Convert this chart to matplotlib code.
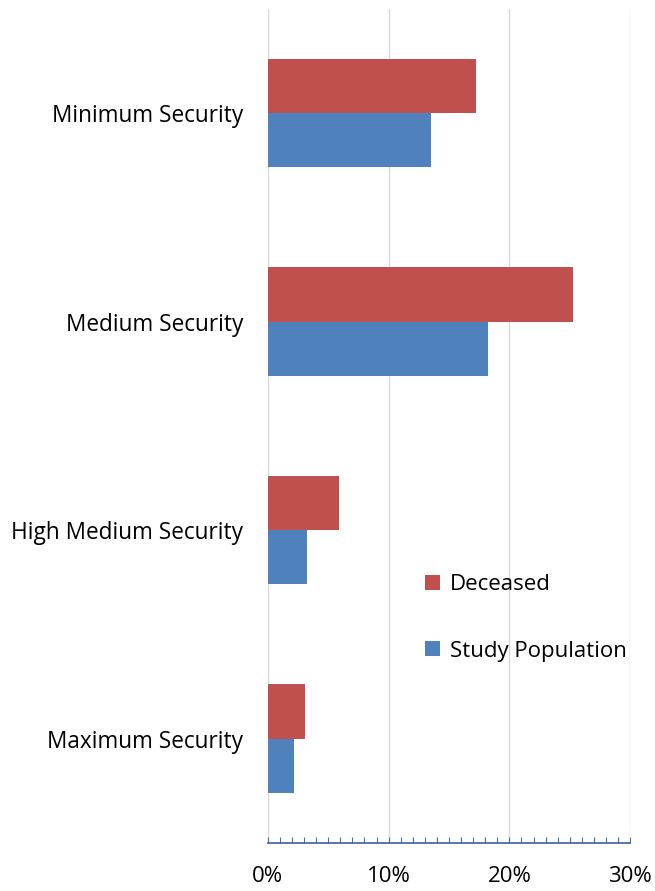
import matplotlib.pyplot as plt
from matplotlib.ticker import MultipleLocator, FuncFormatter
import numpy as np

categories = ["Minimum Security", "Medium Security", "High Medium Security", "Maximum Security"]
deceased = [17.2, 25.3, 5.9, 3.1]
study_population = [13.5, 18.2, 3.2, 2.2]

red = "#C0504D"
blue = "#4F81BD"

plt.rcParams["font.family"] = ["Open Sans", "DejaVu Sans"]

fig = plt.figure(figsize=(6.55, 8.91), dpi=100)
ax = fig.add_axes([0.409, 0.054, 0.553, 0.936])

y = np.arange(len(categories))
h = 0.26
ax.barh(y - h / 2, deceased, height=h, color=red, label="Deceased", zorder=3)
ax.barh(y + h / 2, study_population, height=h, color=blue, label="Study Population", zorder=3)

ax.set_xlim(0, 30)
ax.set_ylim(len(categories) - 0.5, -0.5)
ax.set_yticks(y)
ax.set_yticklabels(categories, fontsize=16.3)
ax.tick_params(axis="y", length=0, pad=18)

ax.xaxis.set_major_locator(MultipleLocator(10))
ax.xaxis.set_minor_locator(MultipleLocator(1))
ax.xaxis.set_major_formatter(FuncFormatter(lambda v, p: f"{v:.0f}%"))
ax.tick_params(axis="x", which="both", direction="in", length=4, width=0.8,
               color="#4A6E9A", labelsize=16, pad=16.5)
ax.grid(axis="x", color="#D9D9D9", linewidth=1, zorder=0)

for s in ["top", "right", "left"]:
    ax.spines[s].set_visible(False)
ax.spines["bottom"].set_color("#3A6395")
ax.spines["bottom"].set_linewidth(1.2)

ax.legend(loc="upper left", bbox_to_anchor=(0.41, 0.333), frameon=False,
          fontsize=16, handlelength=0.65, handleheight=0.65, handletextpad=0.45,
          labelspacing=2.05, borderaxespad=0)

fig.savefig("out.png", dpi=100)
